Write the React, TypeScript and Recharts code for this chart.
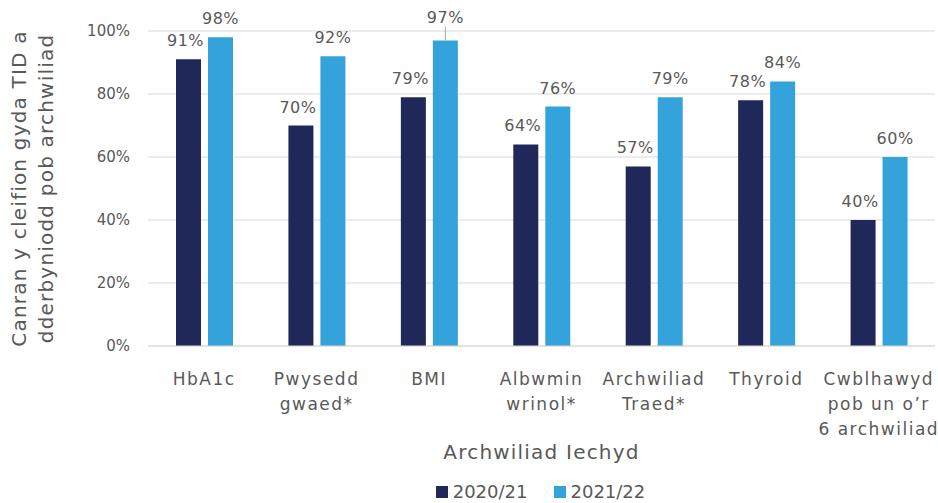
import { BarChart, Bar, XAxis, YAxis, CartesianGrid, Legend, LabelList } from "recharts";

// categories and values
const categories = [
  "HbA1c",
  "Pwysedd\ngwaed*",
  "BMI",
  "Albwmin\nwrinol*",
  "Archwiliad\nTraed*",
  "Thyroid",
  "Cwblhawyd\npob un o’r\n6 archwiliad",
];
const values2020 = [91, 70, 79, 64, 57, 78, 40];
const values2021 = [98, 92, 97, 76, 79, 84, 60];
const yTicks = [0, 20, 40, 60, 80, 100];
const seriesNames = ["2020/21", "2021/22"];

const DARK = "#1f2859";
const LIGHT = "#34a3db";
const TEXT = "#595959";
const FONT = "'DejaVu Sans', sans-serif";

const data = categories.map((name, i) => ({
  name,
  a: values2020[i],
  b: values2021[i],
}));

const XTick = ({ x, y, payload }: any) => {
  const lines = String(payload.value).split("\n");
  return (
    <g>
      {lines.map((line, i) => (
        <text
          key={i}
          x={x}
          y={y + 37 + i * 25}
          textAnchor="middle"
          fill={TEXT}
          fontSize={17}
          letterSpacing={1.5}
          fontFamily={FONT}
        >
          {line}
        </text>
      ))}
    </g>
  );
};

const YTitle = ({ viewBox }: any) => {
  const cy = viewBox.y + viewBox.height / 2;
  return (
    <text
      transform={`translate(0, ${cy}) rotate(-90)`}
      textAnchor="middle"
      fill={TEXT}
      fontSize={20}
      letterSpacing={1.2}
      fontFamily={FONT}
    >
      <tspan x={0} y={26}>Canran y cleifion gyda TID a</tspan>
      <tspan x={0} y={53}>dderbyniodd pob archwiliad</tspan>
    </text>
  );
};

const XTitle = ({ viewBox }: any) => (
  <text
    x={viewBox.x + viewBox.width / 2}
    y={viewBox.y + 113}
    textAnchor="middle"
    fill={TEXT}
    fontSize={20}
    letterSpacing={1.2}
    fontFamily={FONT}
  >
    Archwiliad Iechyd
  </text>
);

const makeLabel = (shift: number, leaderIndex: number) => (props: any) => {
  const { x, y, width, value, index } = props;
  const cx = x + width / 2 + shift;
  const lifted = index === leaderIndex;
  const base = lifted ? y - 17 : y - 13;
  return (
    <g>
      {lifted && <line x1={cx} x2={cx} y1={base + 3} y2={y} stroke="#a6a6a6" strokeWidth={1} />}
      <text
        x={cx}
        y={base}
        textAnchor="middle"
        fill={TEXT}
        fontSize={16}
        letterSpacing={0.5}
        fontFamily={FONT}
      >
        {`${value}%`}
      </text>
    </g>
  );
};

const LegendContent = () => (
  <div
    style={{
      display: "flex",
      justifyContent: "center",
      gap: 26,
      fontFamily: FONT,
      fontSize: 18,
      color: TEXT,
      paddingLeft: 146,
      paddingTop: 10,
    }}
  >
    {seriesNames.map((n, i) => (
      <span key={n} style={{ display: "flex", alignItems: "center", gap: 5 }}>
        <span style={{ width: 12, height: 12, background: i === 0 ? DARK : LIGHT, display: "inline-block" }} />
        {n}
      </span>
    ))}
  </div>
);

export default function App() {
  return (
    <div style={{ position: "fixed", left: 0, top: 0, width: 938, height: 503, background: "#fff" }}>
      <BarChart
        width={938}
        height={503}
        data={data}
        margin={{ top: 31, right: 3, left: 0, bottom: 0 }}
        barSize={25}
        barGap={7}
      >
        <CartesianGrid vertical={false} stroke="#d9d9d9" />
        <XAxis
          dataKey="name"
          interval={0}
          height={125}
          tickLine={false}
          tickSize={0}
          axisLine={{ stroke: "#d9d9d9" }}
          tick={<XTick />}
          label={<XTitle />}
        />
        <YAxis
          width={148}
          domain={[0, 100]}
          ticks={yTicks}
          tickFormatter={(v) => `${v}%`}
          axisLine={false}
          tickLine={false}
          tickSize={0}
          tickMargin={18}
          tick={{ fill: TEXT, fontSize: 15, fontFamily: FONT }}
          label={<YTitle />}
        />
        <Legend verticalAlign="bottom" height={32} content={<LegendContent />} />
        <Bar dataKey="a" name={seriesNames[0]} fill={DARK} isAnimationActive={false}>
          <LabelList dataKey="a" content={makeLabel(-3, -1)} />
        </Bar>
        <Bar dataKey="b" name={seriesNames[1]} fill={LIGHT} isAnimationActive={false}>
          <LabelList dataKey="b" content={makeLabel(0, 2)} />
        </Bar>
      </BarChart>
    </div>
  );
}
